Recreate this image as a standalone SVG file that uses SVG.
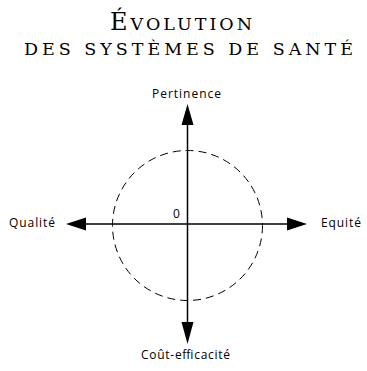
<svg xmlns="http://www.w3.org/2000/svg" width="367" height="371" viewBox="0 0 367 371">
<style>
.title{font-family:"DejaVu Serif","Liberation Serif",serif;fill:#000;}
.lbl{font-family:"Open Sans","DejaVu Sans",sans-serif;font-size:12px;fill:#000;}
.axis{stroke:#000;stroke-width:1.5;fill:none;}
.head{fill:#000;}
</style>
<rect width="367" height="371" fill="#fff"/>
<g id="title">
<text class="title" x="110" y="30" textLength="142" lengthAdjust="spacing"><tspan font-size="24">É</tspan><tspan font-size="17.5">VOLUTION</tspan></text>
<text class="title" x="24" y="55" font-size="17.5" textLength="329" lengthAdjust="spacing">DES SYSTÈMES DE SANTÉ</text>
</g>
<g id="circle">
<circle cx="187.5" cy="225.5" r="75" fill="none" stroke="#000" stroke-width="1" stroke-dasharray="8,5"/>
</g>
<g id="connectors">
<line class="axis" x1="187.5" y1="120" x2="187.5" y2="326"/>
<line class="axis" x1="82" y1="224" x2="291" y2="224"/>
<polygon class="head" points="187.5,104 181.5,125 193.5,125"/>
<polygon class="head" points="187.5,344 181.5,322 193.5,322"/>
<polygon class="head" points="66,224 86,217.5 86,230.5"/>
<polygon class="head" points="307,224 287,217.5 287,230.5"/>
</g>
<g id="pertinence"><text class="lbl" x="152" y="98" textLength="69" lengthAdjust="spacing">Pertinence</text></g>
<g id="qualite"><text class="lbl" x="9" y="227" textLength="46" lengthAdjust="spacing">Qualité</text></g>
<g id="equite"><text class="lbl" x="321" y="227" textLength="40" lengthAdjust="spacing">Equité</text></g>
<g id="cout"><text class="lbl" x="141" y="359" textLength="89" lengthAdjust="spacing">Coût-efficacité</text></g>
<g id="zero"><text class="lbl" x="173" y="218">0</text></g>
</svg>
